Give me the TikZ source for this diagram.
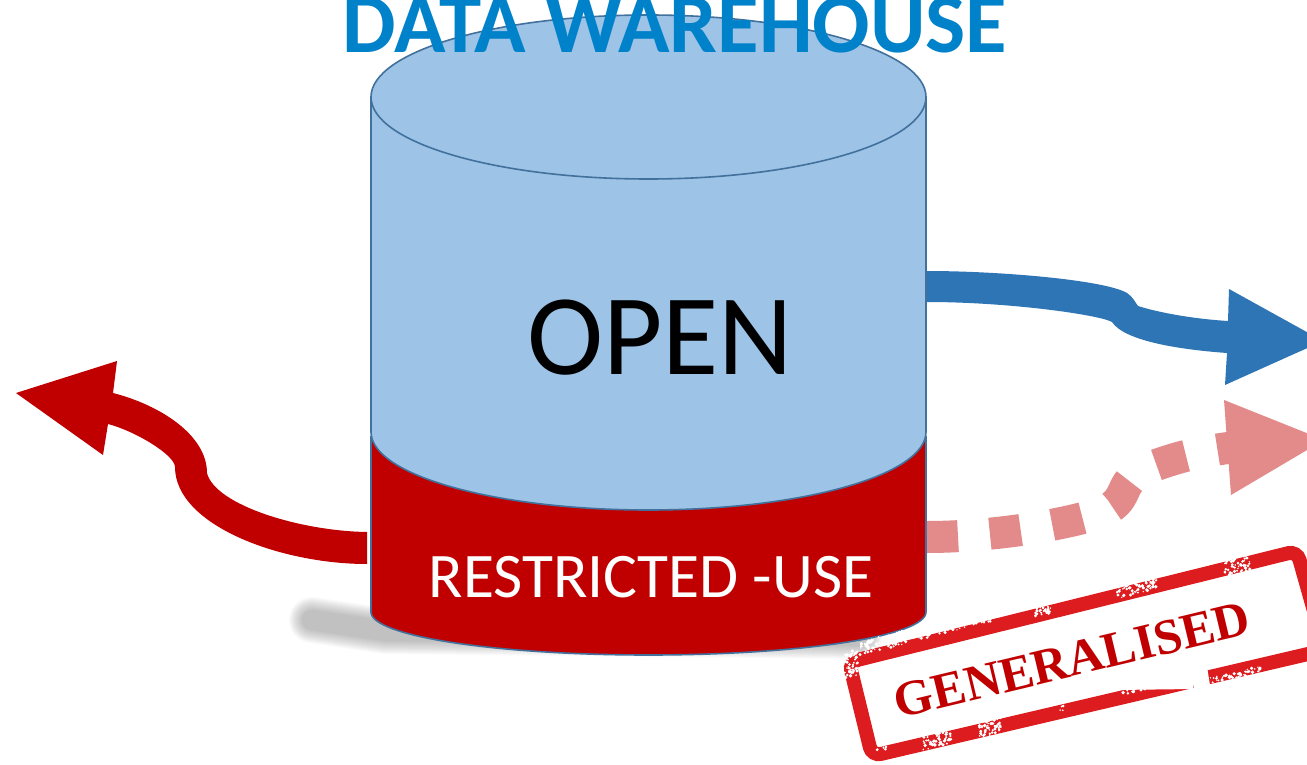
\documentclass[tikz,border=0pt]{standalone}
\usepackage{fontspec}
\setmainfont{Carlito}
\newfontfamily\stampfont{Liberation Serif}
\definecolor{wine}{HTML}{C00000}
\definecolor{skyfill}{HTML}{9DC3E6}
\definecolor{rimblue}{HTML}{41719C}
\definecolor{arrowblue}{HTML}{2E75B6}
\definecolor{paleRed}{HTML}{E28B8A}
\definecolor{stampred}{HTML}{DC1C1F}
\definecolor{titleblue}{HTML}{0082CA}
\tikzset{
  x=1pt,y=-1pt,
  rim/.style={draw=rimblue,line width=1.6pt},
  titletext/.style={text=titleblue,font=\fontsize{85}{85}\selectfont\bfseries,anchor=base,inner sep=0pt},
  bodytext/.style={font=\fontsize{115}{115}\selectfont,anchor=base,inner sep=0pt},
  lowertext/.style={text=white,font=\fontsize{63.5}{64}\selectfont,anchor=base,inner sep=0pt},
  stamptext/.style={text=wine,font=\stampfont\fontsize{50}{50}\selectfont\bfseries,rotate=13.5,inner sep=0pt},
}
\begin{document}
\begin{tikzpicture}
\clip (0,0) rectangle (1307,765);
% soft shadow
\foreach \w in {46,44,...,20}
  \draw[black,opacity=.018,line width=\w pt,line join=round,line cap=round]
    (312,620) -- (385,631) -- (860,636);
% red lower part
\path[fill=wine,rim] (371,437) -- (371,612)
  .. controls (371,636) and (495,655) .. (648.5,655)
  .. controls (802,655) and (926,636) .. (926,612) -- (926,437) -- cycle;
% blue upper part
\path[fill=skyfill,rim] (371,97) -- (371,432)
  .. controls (371,475) and (495,510) .. (648.5,510)
  .. controls (802,510) and (926,475) .. (926,432) -- (926,97) -- cycle;
\path[fill=skyfill,rim] (648.5,97) ellipse [x radius=277.5,y radius=82];
% blue arrow
\fill[arrowblue] (927,271) .. controls (1000,271) and (1105,280) .. (1127,293)
  .. controls (1133,297) and (1135,302) .. (1138,306)
  .. controls (1160,313) and (1195,319) .. (1228,321)
  -- (1229,289) -- (1323,341) -- (1225,385) -- (1227,353)
  .. controls (1185,350) and (1125,342) .. (1112,322)
  .. controls (1100,315) and (1010,302) .. (927,302) -- cycle;
% pale red dashed arrow
\draw[paleRed,line width=32pt,dash pattern=on 31pt off 32pt]
  (927,537) .. controls (985,537) and (1055,527) .. (1097,514)
  .. controls (1135,500) and (1113,483) .. (1148,468)
  .. controls (1175,458) and (1200,450) .. (1255,445);
\fill[paleRed] (1224,400) -- (1324,440) -- (1231,495) -- cycle;
% red arrow
\fill[wine] (367,532) .. controls (300,531) and (215,505) .. (207,473)
  .. controls (207,435) and (160,405) .. (113,393)
  -- (117,361) -- (16,393) -- (103,455) -- (108,424)
  .. controls (135,431) and (175,455) .. (175,467)
  .. controls (175,525) and (280,564) .. (367,564) -- cycle;
% stamp
\draw[stampred,line width=14pt,rounded corners=9pt]
  (849,662) -- (1297,551) -- (1325,650) -- (872,756) -- cycle;
\fill[white] (1191,671) -- (1207,667) -- (1211,691) -- (1195,696) -- cycle;
\fill[white] (1117,690) -- (1193,668) -- (1193,689) -- cycle;
\pgfmathsetseed{11}
\foreach \cx/\cy/\sx/\sy/\n in {
  1043/609/8/6/40, 1137/588/20/6/60, 1237/566/13/8/50,
  955/625/36/6/110, 885/642/26/7/90, 851/664/7/13/50,
  990/726/11/10/70, 937/738/14/9/60, 1135/689/16/3/30,
  1235/675/26/3/40, 882/748/5/5/10, 1062/709/2/3/4}{
  \foreach \k in {1,...,\n}{
    \pgfmathsetmacro{\dx}{rand*\sx}
    \pgfmathsetmacro{\dy}{rand*\sy-.24*\dx}
    \pgfmathsetmacro{\rr}{.7+1.2*rnd}
    \fill[white] (\cx+\dx,\cy+\dy) circle [radius=\rr];
  }
}
% labels
\node[titletext] (title) at (675,53) {DATA WAREHOUSE};
\node[bodytext] (open) at (660,374) {OPEN};
\node[lowertext] (restricted) at (651,597) {RESTRICTED -USE};
\node[stamptext] (generalised) at (1072,660) {GENERALISED};
\end{tikzpicture}
\end{document}
